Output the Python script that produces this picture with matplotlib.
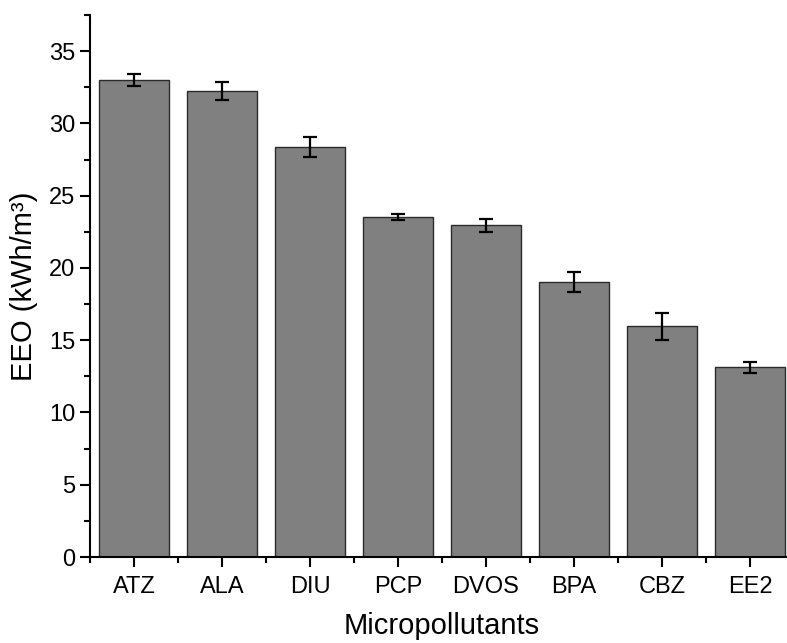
import matplotlib.pyplot as plt
from matplotlib.ticker import MultipleLocator, FixedLocator

plt.rcParams['font.family'] = ['Liberation Sans', 'DejaVu Sans']

compounds = ["ATZ", "ALA", "DIU", "PCP", "DVOS", "BPA", "CBZ", "EE2"]
eeo = [33.0, 32.25, 28.35, 23.53, 22.96, 19.02, 15.95, 13.12]
eeo_err = [0.4, 0.6, 0.7, 0.2, 0.45, 0.7, 0.93, 0.38]

fig = plt.figure(figsize=(7.87, 6.43), dpi=100)
ax = fig.add_axes([0.1144, 0.1337, 0.8945, 0.843])

x = list(range(len(compounds)))
ax.bar(x, eeo, width=0.8, color="#808080", edgecolor="#2b2b2b", linewidth=1.0)
ax.errorbar(x, eeo, yerr=eeo_err, fmt="none", ecolor="black",
            elinewidth=1.6, capsize=5, capthick=1.6)

ax.set_xlim(-0.5, 7.5)
ax.set_ylim(0, 37.5)
ax.set_xticks(x)
ax.set_xticklabels(compounds)
ax.xaxis.set_minor_locator(FixedLocator([i + 0.5 for i in range(-1, 8)]))
ax.yaxis.set_major_locator(MultipleLocator(5))
ax.yaxis.set_minor_locator(MultipleLocator(2.5))

for side in ["top", "right"]:
    ax.spines[side].set_visible(False)
for side in ["left", "bottom"]:
    ax.spines[side].set_linewidth(1.5)

ax.tick_params(which="major", direction="out", length=7, width=1.5, labelsize=17)
ax.tick_params(which="minor", direction="out", length=4, width=1.5)
ax.tick_params(axis="x", which="major", pad=7)

ax.set_xlabel("Micropollutants", fontsize=21, labelpad=10)
ax.set_ylabel("EEO (kWh/m³)", fontsize=21, labelpad=8)

fig.savefig("out.png", dpi=100)
